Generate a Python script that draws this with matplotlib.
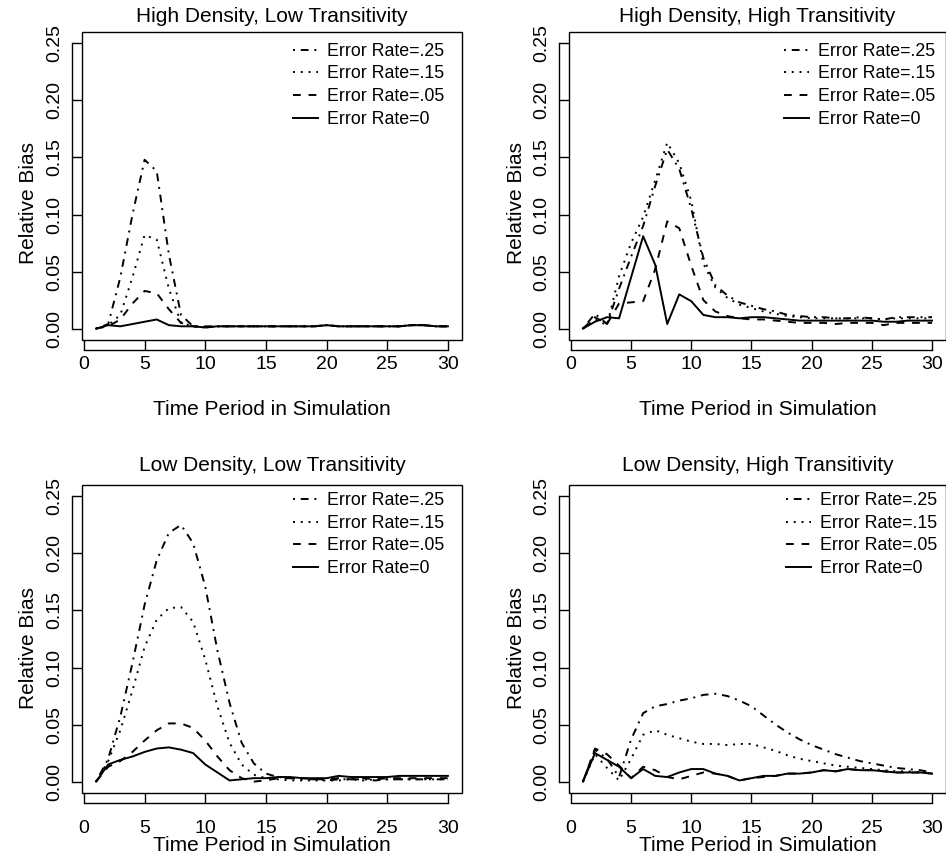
import numpy as np
import matplotlib
matplotlib.use("Agg")
import matplotlib.pyplot as plt
from matplotlib.patches import Rectangle

plt.rcParams['font.family'] = ['Liberation Sans', 'DejaVu Sans']

periods = np.arange(1, 31)
series_labels = ["Error Rate=.25", "Error Rate=.15", "Error Rate=.05", "Error Rate=0"]
panel_titles = ["High Density, Low Transitivity", "High Density, High Transitivity",
                "Low Density, Low Transitivity", "Low Density, High Transitivity"]
x_ticks = [0, 5, 10, 15, 20, 25, 30]
y_ticks = [0.00, 0.05, 0.10, 0.15, 0.20, 0.25]

# high density, low transitivity
hdlt_25 = [0, 0.004, 0.045, 0.100, 0.148, 0.138, 0.065, 0.012, 0.002, 0.002,
           0.002, 0.002, 0.002, 0.002, 0.002, 0.002, 0.002, 0.002, 0.002, 0.003,
           0.002, 0.002, 0.002, 0.002, 0.002, 0.002, 0.003, 0.003, 0.002, 0.002]
hdlt_15 = [0, 0.003, 0.012, 0.045, 0.082, 0.078, 0.035, 0.005, 0.002, 0.001,
           0.002, 0.002, 0.002, 0.002, 0.002, 0.002, 0.002, 0.002, 0.002, 0.003,
           0.002, 0.002, 0.002, 0.002, 0.002, 0.002, 0.003, 0.003, 0.002, 0.002]
hdlt_05 = [0, 0.002, 0.008, 0.022, 0.033, 0.031, 0.017, 0.005, 0.002, 0.001,
           0.002, 0.002, 0.002, 0.002, 0.002, 0.002, 0.002, 0.002, 0.002, 0.003,
           0.002, 0.002, 0.002, 0.002, 0.002, 0.002, 0.003, 0.003, 0.002, 0.002]
hdlt_0 = [0, 0.003, 0.002, 0.004, 0.006, 0.008, 0.003, 0.002, 0.002, 0.001,
          0.002, 0.002, 0.002, 0.002, 0.002, 0.002, 0.002, 0.002, 0.002, 0.003,
          0.002, 0.002, 0.002, 0.002, 0.002, 0.002, 0.003, 0.003, 0.002, 0.002]

# high density, high transitivity
hdht_25 = [0, 0.013, 0.004, 0.035, 0.063, 0.090, 0.125, 0.157, 0.140, 0.105,
           0.062, 0.038, 0.029, 0.023, 0.020, 0.017, 0.015, 0.012, 0.011, 0.010,
           0.010, 0.009, 0.009, 0.010, 0.009, 0.008, 0.010, 0.010, 0.010, 0.010]
hdht_15 = [0, 0.008, 0.003, 0.046, 0.075, 0.098, 0.130, 0.163, 0.145, 0.112,
           0.057, 0.036, 0.027, 0.021, 0.018, 0.015, 0.013, 0.011, 0.010, 0.009,
           0.009, 0.009, 0.009, 0.009, 0.009, 0.008, 0.009, 0.009, 0.009, 0.009]
hdht_05 = [0, 0.010, 0.004, 0.022, 0.023, 0.024, 0.052, 0.094, 0.088, 0.055,
           0.025, 0.015, 0.011, 0.009, 0.008, 0.008, 0.007, 0.006, 0.005, 0.005,
           0.005, 0.004, 0.005, 0.005, 0.005, 0.003, 0.005, 0.005, 0.005, 0.005]
hdht_0 = [0, 0.006, 0.010, 0.009, 0.045, 0.081, 0.056, 0.004, 0.030, 0.024,
          0.012, 0.010, 0.010, 0.009, 0.010, 0.010, 0.009, 0.008, 0.007, 0.007,
          0.007, 0.007, 0.007, 0.007, 0.007, 0.006, 0.006, 0.007, 0.007, 0.007]

# low density, low transitivity
ldlt_25 = [0, 0.020, 0.057, 0.104, 0.155, 0.194, 0.218, 0.225, 0.209, 0.171,
           0.115, 0.069, 0.034, 0.016, 0.007, 0.004, 0.003, 0.002, 0.002, 0.001,
           0.002, 0.002, 0.002, 0.001, 0.002, 0.002, 0.002, 0.002, 0.002, 0.002]
ldlt_15 = [0, 0.018, 0.045, 0.080, 0.118, 0.142, 0.152, 0.153, 0.140, 0.107,
           0.066, 0.034, 0.015, 0.006, 0.003, 0.002, 0.001, 0.001, 0.001, 0.001,
           0.001, 0.002, 0.001, 0.002, 0.002, 0.002, 0.002, 0.002, 0.002, 0.002]
ldlt_05 = [0, 0.013, 0.018, 0.026, 0.036, 0.045, 0.051, 0.051, 0.047, 0.036,
           0.022, 0.010, 0.003, 0.000, 0.001, 0.003, 0.003, 0.003, 0.002, 0.002,
           0.003, 0.002, 0.003, 0.002, 0.003, 0.003, 0.003, 0.003, 0.003, 0.003]
ldlt_0 = [0, 0.015, 0.019, 0.022, 0.026, 0.029, 0.030, 0.028, 0.025, 0.015,
          0.008, 0.001, 0.002, 0.003, 0.003, 0.004, 0.004, 0.003, 0.003, 0.003,
          0.005, 0.004, 0.004, 0.004, 0.004, 0.005, 0.005, 0.005, 0.005, 0.005]

# low density, high transitivity
ldht_25 = [0, 0.028, 0.020, 0.004, 0.037, 0.060, 0.066, 0.068, 0.071, 0.073,
           0.076, 0.077, 0.075, 0.071, 0.066, 0.058, 0.050, 0.043, 0.037, 0.032,
           0.028, 0.024, 0.021, 0.018, 0.016, 0.014, 0.012, 0.011, 0.010, 0.008]
ldht_15 = [0, 0.024, 0.012, 0.001, 0.020, 0.041, 0.045, 0.041, 0.038, 0.035,
           0.033, 0.033, 0.032, 0.033, 0.033, 0.030, 0.027, 0.023, 0.020, 0.018,
           0.016, 0.014, 0.013, 0.012, 0.011, 0.010, 0.009, 0.009, 0.008, 0.008]
ldht_05 = [0, 0.029, 0.024, 0.014, 0.003, 0.013, 0.010, 0.004, 0.002, 0.005,
           0.008, 0.007, 0.005, 0.001, 0.003, 0.004, 0.005, 0.007, 0.007, 0.008,
           0.010, 0.009, 0.011, 0.010, 0.010, 0.009, 0.008, 0.008, 0.008, 0.007]
ldht_0 = [0, 0.025, 0.019, 0.013, 0.003, 0.011, 0.005, 0.004, 0.008, 0.011,
          0.011, 0.007, 0.005, 0.001, 0.003, 0.005, 0.005, 0.007, 0.007, 0.008,
          0.010, 0.009, 0.011, 0.010, 0.010, 0.009, 0.008, 0.008, 0.008, 0.007]

panel_data = [
    [hdlt_25, hdlt_15, hdlt_05, hdlt_0],
    [hdht_25, hdht_15, hdht_05, hdht_0],
    [ldlt_25, ldlt_15, ldlt_05, ldlt_0],
    [ldht_25, ldht_15, ldht_05, ldht_0],
]

# R style line types: dotdash, dotted, dashed, solid
line_styles = [(0, (1, 3, 4, 3)), (0, (1, 3)), (0, (4, 4)), '-']

W, H = 946, 863
fig = plt.figure(figsize=(W / 100, H / 100), dpi=100)

# axes boxes in pixels: left, top, width, height
boxes = [(82, 32, 380, 308), (569, 32, 377, 308),
         (82, 485, 380, 308), (569, 485, 377, 308)]
legend_x = [0.555, 0.571, 0.555, 0.576]

for i, (l, t, w, h) in enumerate(boxes):
    ax = fig.add_axes([l / W, 1 - (t + h) / H, w / W, h / H])
    for vals, ls, lab in zip(panel_data[i], line_styles, series_labels):
        ax.plot(periods, vals, color='black', lw=1.4, linestyle=ls, label=lab)
    ax.set_xlim(-0.16, 31.16)
    ax.set_ylim(-0.01, 0.26)
    ax.set_xticks(x_ticks)
    ax.set_yticks(y_ticks)
    ax.set_yticklabels(["%.2f" % v for v in y_ticks])

    # R style: separate axis lines offset from the box
    for s in ['left', 'bottom']:
        ax.spines[s].set_position(('outward', 7.2))
        ax.spines[s].set_linewidth(1.0)
    ax.spines['left'].set_bounds(0, 0.25)
    ax.spines['bottom'].set_bounds(0, 30)
    ax.spines['top'].set_visible(False)
    ax.spines['right'].set_visible(False)
    ax.add_patch(Rectangle((0, 0), 1, 1, transform=ax.transAxes, fill=False,
                           lw=1.0, ec='black', clip_on=False))

    top_row = i < 2
    ax.tick_params(axis='both', direction='in', length=7.2, width=1.0, labelsize=14)
    ax.tick_params(axis='x', pad=4 if top_row else 12)
    ax.tick_params(axis='y', pad=6, labelrotation=90)
    for lbl in ax.get_yticklabels():
        lbl.set_verticalalignment('center')

    ax.set_title(panel_titles[i], fontsize=15, pad=7 if top_row else 10)
    ax.set_ylabel("Relative Bias", fontsize=15)
    ax.yaxis.set_label_coords(-0.115, 0.445 if top_row else 0.47)
    ax.set_xlabel("Time Period in Simulation", fontsize=15)
    ax.xaxis.set_label_coords(0.5, -0.195 if top_row else -0.14)

    ax.legend(loc='upper left', bbox_to_anchor=(legend_x[i], 0.965 if top_row else 0.977),
              frameon=False, fontsize=12.8, handlelength=1.4, handletextpad=0.5,
              labelspacing=0.32, borderpad=0, borderaxespad=0)

fig.savefig("out.png", dpi=100)
